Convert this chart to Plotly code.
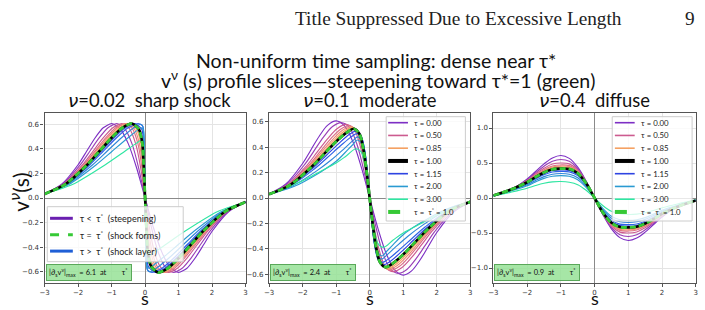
import plotly.graph_objects as go

W, H = 705, 310

# ---------------- data ----------------
TAUS = ["0.00", "0.25", "0.50", "0.65", "0.75", "0.85", "0.93", "1.00",
        "1.15", "1.30", "1.60", "2.00", "3.00"]

# nu = 0.02 : sharp shock  (s positions and values per slice)
V_STEEP = [0.033, 0.110, 0.271, 0.379, 0.487, 0.572, 0.607, 0.566, 0.441, 0.242, 0,
           -0.242, -0.441, -0.566, -0.607, -0.572, -0.487, -0.379, -0.271, -0.110, -0.033]
NU002_S = {
    "0.00": [-3, -2.5, -2, -1.75, -1.5, -1.25, -1, -0.75, -0.5, -0.25, 0, 0.25, 0.5, 0.75, 1, 1.25, 1.5, 1.75, 2, 2.5, 3],
    "0.25": [-3, -2.473, -1.932, -1.655, -1.378, -1.107, -0.848, -0.609, -0.39, -0.19, 0, 0.19, 0.39, 0.609, 0.848, 1.107, 1.378, 1.655, 1.932, 2.473, 3],
    "0.50": [-3, -2.445, -1.865, -1.561, -1.257, -0.964, -0.697, -0.467, -0.28, -0.129, 0, 0.129, 0.28, 0.467, 0.697, 0.964, 1.257, 1.561, 1.865, 2.445, 3],
    "0.65": [-3, -2.429, -1.824, -1.504, -1.183, -0.878, -0.605, -0.382, -0.213, -0.093, 0, 0.093, 0.213, 0.382, 0.605, 0.878, 1.183, 1.504, 1.824, 2.429, 3],
    "0.75": [-3, -2.418, -1.797, -1.466, -1.135, -0.821, -0.545, -0.326, -0.169, -0.069, 0, 0.069, 0.169, 0.326, 0.545, 0.821, 1.135, 1.466, 1.797, 2.418, 3],
    "0.85": [-3, -2.407, -1.77, -1.428, -1.086, -0.764, -0.484, -0.269, -0.125, -0.044, 0, 0.044, 0.125, 0.269, 0.484, 0.764, 1.086, 1.428, 1.77, 2.407, 3],
    "0.93": [-3, -2.398, -1.748, -1.398, -1.047, -0.718, -0.435, -0.224, -0.09, -0.025, 0, 0.025, 0.09, 0.224, 0.435, 0.718, 1.047, 1.398, 1.748, 2.398, 3],
    "1.00": [-3, -2.39, -1.729, -1.371, -1.013, -0.678, -0.393, -0.184, -0.08, -0.035, 0, 0.035, 0.08, 0.184, 0.393, 0.678, 1.013, 1.371, 1.729, 2.39, 3],
    "1.15": [-3, -2.373, -1.688, -1.314, -0.94, -0.592, -0.302, -0.099, -0.045, -0.018, 0, 0.018, 0.045, 0.099, 0.302, 0.592, 0.94, 1.314, 1.688, 2.373, 3],
    "1.30": [-3, -2.357, -1.648, -1.257, -0.867, -0.506, -0.211, -0.08, -0.04, -0.016, 0, 0.016, 0.04, 0.08, 0.211, 0.506, 0.867, 1.257, 1.648, 2.357, 3],
    "1.60": [-3, -2.324, -1.566, -1.144, -0.721, -0.335, -0.139, -0.06, -0.025, 0, 0.025, 0.06, 0.139, 0.335, 0.721, 1.144, 1.566, 2.324, 3],
    "2.00": [-3, -2.28, -1.458, -0.992, -0.526, -0.106, -0.05, -0.02, 0, 0.02, 0.05, 0.106, 0.526, 0.992, 1.458, 2.28, 3],
    "3.00": [-3, -2.17, -1.187, -0.613, -0.265, -0.12, -0.05, -0.02, 0, 0.02, 0.05, 0.12, 0.265, 0.613, 1.187, 2.17, 3],
}
NU002_V = {
    "0.00": V_STEEP, "0.25": V_STEEP, "0.50": V_STEEP, "0.65": V_STEEP,
    "0.75": V_STEEP, "0.85": V_STEEP, "0.93": V_STEEP,
    "1.00": [0.033, 0.110, 0.271, 0.379, 0.487, 0.572, 0.607, 0.560, 0.440, 0.220, 0, -0.220, -0.440, -0.560, -0.607, -0.572, -0.487, -0.379, -0.271, -0.110, -0.033],
    "1.15": [0.033, 0.110, 0.271, 0.379, 0.487, 0.572, 0.607, 0.560, 0.460, 0.250, 0, -0.250, -0.460, -0.560, -0.607, -0.572, -0.487, -0.379, -0.271, -0.110, -0.033],
    "1.30": [0.033, 0.110, 0.271, 0.379, 0.487, 0.572, 0.607, 0.590, 0.500, 0.270, 0, -0.270, -0.500, -0.590, -0.607, -0.572, -0.487, -0.379, -0.271, -0.110, -0.033],
    "1.60": [0.033, 0.110, 0.271, 0.379, 0.487, 0.572, 0.601, 0.580, 0.350, 0, -0.350, -0.580, -0.601, -0.572, -0.487, -0.379, -0.271, -0.110, -0.033],
    "2.00": [0.033, 0.110, 0.271, 0.379, 0.487, 0.572, 0.550, 0.330, 0, -0.330, -0.550, -0.572, -0.487, -0.379, -0.271, -0.110, -0.033],
    "3.00": [0.033, 0.110, 0.271, 0.379, 0.445, 0.470, 0.440, 0.270, 0, -0.270, -0.440, -0.470, -0.445, -0.379, -0.271, -0.110, -0.033],
}

# nu = 0.1 : moderate
NU01_S = {
    "0.00": [-3, -2.5, -2, -1.75, -1.5, -1.25, -1, -0.75, -0.5, -0.25, 0, 0.25, 0.5, 0.75, 1, 1.25, 1.5, 1.75, 2, 2.5, 3],
    "0.25": [-3, -2.47, -1.93, -1.655, -1.378, -1.107, -0.85, -0.61, -0.39, -0.19, 0, 0.19, 0.39, 0.61, 0.85, 1.107, 1.378, 1.655, 1.93, 2.47, 3],
    "0.50": [-3, -2.445, -1.865, -1.561, -1.257, -0.964, -0.7, -0.47, -0.29, -0.14, 0, 0.14, 0.29, 0.47, 0.7, 0.964, 1.257, 1.561, 1.865, 2.445, 3],
    "0.65": [-3, -2.43, -1.824, -1.504, -1.183, -0.878, -0.61, -0.4, -0.24, -0.11, 0, 0.11, 0.24, 0.4, 0.61, 0.878, 1.183, 1.504, 1.824, 2.43, 3],
    "0.75": [-3, -2.418, -1.797, -1.466, -1.135, -0.821, -0.56, -0.36, -0.21, -0.1, 0, 0.1, 0.21, 0.36, 0.56, 0.821, 1.135, 1.466, 1.797, 2.418, 3],
    "0.85": [-3, -2.407, -1.77, -1.428, -1.086, -0.764, -0.52, -0.33, -0.2, -0.1, 0, 0.1, 0.2, 0.33, 0.52, 0.764, 1.086, 1.428, 1.77, 2.407, 3],
    "0.93": [-3, -2.398, -1.748, -1.398, -1.047, -0.718, -0.49, -0.32, -0.19, -0.1, 0, 0.1, 0.19, 0.32, 0.49, 0.718, 1.047, 1.398, 1.748, 2.398, 3],
    "1.00": [-3, -2.39, -1.729, -1.371, -1.013, -0.678, -0.47, -0.31, -0.19, -0.1, 0, 0.1, 0.19, 0.31, 0.47, 0.678, 1.013, 1.371, 1.729, 2.39, 3],
    "1.15": [-3, -2.37, -1.69, -1.31, -0.94, -0.6, -0.4, -0.26, -0.15, -0.07, 0, 0.07, 0.15, 0.26, 0.4, 0.6, 0.94, 1.31, 1.69, 2.37, 3],
    "1.30": [-3, -2.36, -1.65, -1.26, -0.87, -0.55, -0.37, -0.24, -0.14, -0.07, 0, 0.07, 0.14, 0.24, 0.37, 0.55, 0.87, 1.26, 1.65, 2.36, 3],
    "1.60": [-3, -2.32, -1.57, -1.14, -0.75, -0.5, -0.36, -0.23, -0.13, -0.06, 0, 0.06, 0.13, 0.23, 0.36, 0.5, 0.75, 1.14, 1.57, 2.32, 3],
    "2.00": [-3, -2.28, -1.46, -0.99, -0.65, -0.5, -0.37, -0.25, -0.14, -0.07, 0, 0.07, 0.14, 0.25, 0.37, 0.5, 0.65, 0.99, 1.46, 2.28, 3],
    "3.00": [-3, -2.5, -2, -1.5, -1, -0.7, -0.41, -0.25, -0.13, -0.06, 0, 0.06, 0.13, 0.25, 0.41, 0.7, 1, 1.5, 2, 2.5, 3],
}
NU01_V = {
    "0.00": [0.033, 0.11, 0.271, 0.379, 0.487, 0.572, 0.605, 0.566, 0.441, 0.242, 0, -0.242, -0.441, -0.566, -0.605, -0.572, -0.487, -0.379, -0.271, -0.11, -0.033],
    "0.25": [0.032, 0.108, 0.266, 0.372, 0.478, 0.561, 0.592, 0.555, 0.43, 0.232, 0, -0.232, -0.43, -0.555, -0.592, -0.561, -0.478, -0.372, -0.266, -0.108, -0.032],
    "0.50": [0.032, 0.105, 0.259, 0.362, 0.465, 0.546, 0.578, 0.54, 0.415, 0.235, 0, -0.235, -0.415, -0.54, -0.578, -0.546, -0.465, -0.362, -0.259, -0.105, -0.032],
    "0.65": [0.031, 0.103, 0.255, 0.356, 0.458, 0.538, 0.568, 0.525, 0.4, 0.225, 0, -0.225, -0.4, -0.525, -0.568, -0.538, -0.458, -0.356, -0.255, -0.103, -0.031],
    "0.75": [0.031, 0.102, 0.251, 0.351, 0.451, 0.53, 0.561, 0.515, 0.39, 0.215, 0, -0.215, -0.39, -0.515, -0.561, -0.53, -0.451, -0.351, -0.251, -0.102, -0.031],
    "0.85": [0.031, 0.101, 0.249, 0.347, 0.446, 0.524, 0.554, 0.51, 0.385, 0.215, 0, -0.215, -0.385, -0.51, -0.554, -0.524, -0.446, -0.347, -0.249, -0.101, -0.031],
    "0.93": [0.03, 0.1, 0.247, 0.344, 0.443, 0.52, 0.548, 0.51, 0.385, 0.22, 0, -0.22, -0.385, -0.51, -0.548, -0.52, -0.443, -0.344, -0.247, -0.1, -0.03],
    "1.00": [0.03, 0.1, 0.245, 0.342, 0.44, 0.515, 0.543, 0.505, 0.385, 0.225, 0, -0.225, -0.385, -0.505, -0.543, -0.515, -0.44, -0.342, -0.245, -0.1, -0.03],
    "1.15": [0.03, 0.098, 0.236, 0.33, 0.423, 0.5, 0.525, 0.49, 0.37, 0.2, 0, -0.2, -0.37, -0.49, -0.525, -0.5, -0.423, -0.33, -0.236, -0.098, -0.03],
    "1.30": [0.03, 0.096, 0.228, 0.318, 0.41, 0.48, 0.505, 0.47, 0.36, 0.2, 0, -0.2, -0.36, -0.47, -0.505, -0.48, -0.41, -0.318, -0.228, -0.096, -0.03],
    "1.60": [0.03, 0.092, 0.215, 0.3, 0.39, 0.45, 0.48, 0.45, 0.34, 0.18, 0, -0.18, -0.34, -0.45, -0.48, -0.45, -0.39, -0.3, -0.215, -0.092, -0.03],
    "2.00": [0.03, 0.088, 0.205, 0.29, 0.38, 0.42, 0.455, 0.43, 0.33, 0.18, 0, -0.18, -0.33, -0.43, -0.455, -0.42, -0.38, -0.29, -0.205, -0.088, -0.03],
    "3.00": [0.03, 0.08, 0.135, 0.205, 0.275, 0.33, 0.387, 0.36, 0.24, 0.12, 0, -0.12, -0.24, -0.36, -0.387, -0.33, -0.275, -0.205, -0.135, -0.08, -0.03],
}

# nu = 0.4 : diffuse (common s grid)
NU04_S = [-3, -2.5, -2, -1.75, -1.5, -1.25, -1, -0.75, -0.5, -0.25, 0, 0.25, 0.5, 0.75, 1, 1.25, 1.5, 1.75, 2, 2.5, 3]
NU04_V = {
    "0.00": [0.033, 0.11, 0.271, 0.379, 0.487, 0.572, 0.607, 0.566, 0.441, 0.242, 0, -0.242, -0.441, -0.566, -0.607, -0.572, -0.487, -0.379, -0.271, -0.11, -0.033],
    "0.25": [0.035, 0.115, 0.26, 0.36, 0.455, 0.525, 0.55, 0.525, 0.42, 0.235, 0, -0.235, -0.42, -0.525, -0.55, -0.525, -0.455, -0.36, -0.26, -0.115, -0.035],
    "0.50": [0.036, 0.118, 0.25, 0.342, 0.425, 0.485, 0.5, 0.488, 0.4, 0.228, 0, -0.228, -0.4, -0.488, -0.5, -0.485, -0.425, -0.342, -0.25, -0.118, -0.036],
    "0.65": [0.037, 0.119, 0.242, 0.328, 0.405, 0.458, 0.472, 0.462, 0.385, 0.222, 0, -0.222, -0.385, -0.462, -0.472, -0.458, -0.405, -0.328, -0.242, -0.119, -0.037],
    "0.75": [0.037, 0.119, 0.237, 0.32, 0.393, 0.443, 0.456, 0.448, 0.375, 0.218, 0, -0.218, -0.375, -0.448, -0.456, -0.443, -0.393, -0.32, -0.237, -0.119, -0.037],
    "0.85": [0.036, 0.118, 0.232, 0.312, 0.382, 0.43, 0.442, 0.436, 0.367, 0.215, 0, -0.215, -0.367, -0.436, -0.442, -0.43, -0.382, -0.312, -0.232, -0.118, -0.036],
    "0.93": [0.036, 0.118, 0.228, 0.305, 0.373, 0.42, 0.43, 0.425, 0.36, 0.212, 0, -0.212, -0.36, -0.425, -0.43, -0.42, -0.373, -0.305, -0.228, -0.118, -0.036],
    "1.00": [0.036, 0.118, 0.225, 0.3, 0.365, 0.41, 0.42, 0.415, 0.355, 0.21, 0, -0.21, -0.355, -0.415, -0.42, -0.41, -0.365, -0.3, -0.225, -0.118, -0.036],
    "1.15": [0.035, 0.114, 0.215, 0.287, 0.35, 0.392, 0.4, 0.395, 0.34, 0.2, 0, -0.2, -0.34, -0.395, -0.4, -0.392, -0.35, -0.287, -0.215, -0.114, -0.035],
    "1.30": [0.034, 0.11, 0.205, 0.272, 0.332, 0.372, 0.38, 0.373, 0.32, 0.19, 0, -0.19, -0.32, -0.373, -0.38, -0.372, -0.332, -0.272, -0.205, -0.11, -0.034],
    "1.60": [0.032, 0.104, 0.19, 0.25, 0.305, 0.34, 0.35, 0.34, 0.29, 0.17, 0, -0.17, -0.29, -0.34, -0.35, -0.34, -0.305, -0.25, -0.19, -0.104, -0.032],
    "2.00": [0.03, 0.097, 0.175, 0.23, 0.28, 0.31, 0.32, 0.31, 0.262, 0.152, 0, -0.152, -0.262, -0.31, -0.32, -0.31, -0.28, -0.23, -0.175, -0.097, -0.03],
    "3.00": [0.025, 0.08, 0.14, 0.178, 0.21, 0.23, 0.235, 0.225, 0.19, 0.11, 0, -0.11, -0.19, -0.225, -0.235, -0.23, -0.21, -0.178, -0.14, -0.08, -0.025],
}

MAX_GRAD = ["6.1", "2.4", "0.9"]
NU_VALUES = ["0.02", "0.1", "0.4"]
REGIMES = ["sharp shock", "moderate", "diffuse"]
LEGEND_TAUS = ["0.00", "0.50", "0.85", "1.00", "1.15", "2.00", "3.00"]
Y_RANGES = [(-0.69, 0.69), (-0.665, 0.665), (-1.21, 1.21)]
Y_DTICK = [0.2, 0.2, 0.5]

# ---------------- styles ----------------
COLORS = {
    "0.00": "#7d2fc4", "0.25": "#9a3fb6", "0.50": "#cc5b8f", "0.65": "#dd6f86",
    "0.75": "#ec8a78", "0.85": "#f5a162", "0.93": "#f7b574", "1.00": "#000000",
    "1.15": "#2e44e2", "1.30": "#2f62e6", "1.60": "#2f86d8", "2.00": "#2a9ad2",
    "3.00": "#2fe6a2",
}
GREEN = "#36c936"
FONT = "Lato, 'Noto Sans', sans-serif"
NU = "<span style=\"font-family:'DejaVu Sans';font-style:italic\">ν</span>"

X_DOM = [(40, 243), (266.7, 470), (493.3, 697.7)]
Y_TOP, Y_BOT = 113.3, 282.7


def px(x):
    return x / W


def py(y):
    return 1 - y / H


fig = go.Figure()

panel_data = [
    [(NU002_S[t], NU002_V[t]) for t in TAUS],
    [(NU01_S[t], NU01_V[t]) for t in TAUS],
    [(NU04_S, NU04_V[t]) for t in TAUS],
]

for p in range(3):
    xa = "x" if p == 0 else f"x{p + 1}"
    ya = "y" if p == 0 else f"y{p + 1}"
    smooth = 0.6 if p == 0 else 1.0
    for k, tau in enumerate(TAUS):
        if tau == "1.00":
            continue
        s, v = panel_data[p][k]
        fig.add_trace(go.Scatter(x=s, y=v, mode="lines", xaxis=xa, yaxis=ya,
                                 line=dict(color=COLORS[tau], width=1.15, shape="spline", smoothing=smooth),
                                 showlegend=False, hoverinfo="skip"))
    k1 = TAUS.index("1.00")
    s, v = panel_data[p][k1]
    fig.add_trace(go.Scatter(x=s, y=v, mode="lines", xaxis=xa, yaxis=ya,
                             line=dict(color="#000000", width=2.6, shape="spline", smoothing=smooth),
                             showlegend=False, hoverinfo="skip"))
    fig.add_trace(go.Scatter(x=s, y=v, mode="lines", xaxis=xa, yaxis=ya,
                             line=dict(color=GREEN, width=2.8, dash="6px,3px", shape="spline", smoothing=smooth),
                             showlegend=False, hoverinfo="skip"))

layout = dict(width=W, height=H, margin=dict(l=0, r=0, t=0, b=0),
              paper_bgcolor="white", plot_bgcolor="white", showlegend=False)

for p in range(3):
    xk = "xaxis" if p == 0 else f"xaxis{p + 1}"
    yk = "yaxis" if p == 0 else f"yaxis{p + 1}"
    ya = "y" if p == 0 else f"y{p + 1}"
    xa = "x" if p == 0 else f"x{p + 1}"
    common = dict(showgrid=True, gridcolor="#e4e4e4", gridwidth=1,
                  zeroline=True, zerolinecolor="#8a8a8a", zerolinewidth=1,
                  showline=True, linecolor="#555555", linewidth=1.3, mirror=True,
                  ticks="outside", ticklen=3, tickwidth=1, tickcolor="#555555",
                  tickfont=dict(family="DejaVu Sans", size=7, color="#333333"))
    layout[xk] = dict(common, domain=[px(X_DOM[p][0]), px(X_DOM[p][1])], anchor=ya,
                      range=[-3, 3], dtick=1, tick0=0)
    layout[yk] = dict(common, domain=[py(Y_BOT), py(Y_TOP)], anchor=xa,
                      range=list(Y_RANGES[p]), dtick=Y_DTICK[p], tick0=0, tickformat=".1f")

fig.update_layout(**layout)

ann = []
shapes = []

# page header and titles
ann.append(dict(x=px(625), y=py(19), xref="paper", yref="paper", xanchor="right", yanchor="middle",
                text="Title Suppressed Due to Excessive Length", showarrow=False,
                font=dict(family="'Liberation Serif', serif", size=19.3, color="#222")))
ann.append(dict(x=px(699), y=py(19), xref="paper", yref="paper", xanchor="right", yanchor="middle",
                text="9", showarrow=False, font=dict(family="'Liberation Serif', serif", size=19.3, color="#222")))
ann.append(dict(x=px(375), y=py(60), xref="paper", yref="paper", xanchor="center", yanchor="middle",
                text="Non-uniform time sampling: dense near τ*", showarrow=False,
                font=dict(family=FONT, size=19.5, color="#111")))
ann.append(dict(x=px(377), y=py(79), xref="paper", yref="paper", xanchor="center", yanchor="middle",
                text="v<sup>ν</sup> (s) profile slices\u2014steepening toward τ*=1 (green)", showarrow=False,
                font=dict(family=FONT, size=19.5, color="#111")))

for p in range(3):
    cx = (X_DOM[p][0] + X_DOM[p][1]) / 2
    ann.append(dict(x=px(cx + (4 if p == 0 else 0)), y=py(100), xref="paper", yref="paper",
                    xanchor="center", yanchor="middle",
                    text=NU + "=" + NU_VALUES[p] + "\u00a0\u00a0" + REGIMES[p], showarrow=False,
                    font=dict(family=FONT, size=18.4, color="#111")))
    ann.append(dict(x=px(cx), y=0, xref="paper", yref="paper", xanchor="center", yanchor="bottom",
                    text="s", showarrow=False, height=15, valign="bottom", borderpad=0,
                    font=dict(family=FONT, size=18, color="#111")))
    dom = "x domain" if p == 0 else f"x{p + 1} domain"
    ydom = "y domain" if p == 0 else f"y{p + 1} domain"
    ann.append(dict(x=0.005, y=0.012, xref=dom, yref=ydom, xanchor="left", yanchor="bottom",
                    text="|∂<sub>s</sub>v<sup>ν</sup>|<sub>max</sub>\u00a0 = " + MAX_GRAD[p]
                         + "\u00a0 at\u00a0\u00a0\u00a0\u00a0\u00a0\u00a0\u00a0\u00a0τ<sup>*</sup>\u00a0",
                    showarrow=False, bgcolor="rgba(150,226,150,0.85)", bordercolor="#5aa85a",
                    borderwidth=1, borderpad=2, font=dict(family=FONT, size=7.5, color="#111")))

ann.append(dict(x=px(14), y=py(192), xref="paper", yref="paper", xanchor="center", yanchor="middle",
                text="v<sup>" + NU + "</sup>(s)", textangle=-90, showarrow=False,
                font=dict(family=FONT, size=21, color="#111")))

# legend of panel 1
shapes.append(dict(type="rect", xref="paper", yref="paper", x0=px(42.7), x1=px(180), y0=py(261.7), y1=py(206.7),
                   fillcolor="rgba(255,255,255,0.8)", line=dict(color="#cccccc", width=1), layer="above"))
leg1 = [("#6a1fb0", "solid", "τ <\u00a0\u00a0τ<sup>*</sup>\u00a0 (steepening)"),
        (GREEN, "dash", "τ =\u00a0\u00a0τ<sup>*</sup>\u00a0 (shock forms)"),
        ("#1f5fd6", "solid", "τ >\u00a0\u00a0τ<sup>*</sup>\u00a0 (shock layer)")]
for i, (c, d, t) in enumerate(leg1):
    yy = 218.3 + i * 16.4
    shapes.append(dict(type="line", xref="paper", yref="paper", x0=px(45.5), x1=px(68.5), y0=py(yy), y1=py(yy),
                       line=dict(color=c, width=3, dash=d), layer="above"))
    ann.append(dict(x=px(74), y=py(yy), xref="paper", yref="paper", xanchor="left", yanchor="middle",
                    text=t, showarrow=False, font=dict(family=FONT, size=9, color="#222")))

# legends of panels 2 and 3
for (bx0, bx1, lx0, lx1, tx) in [(385, 465, 387, 407, 411), (613.3, 694, 616, 636, 640)]:
    shapes.append(dict(type="rect", xref="paper", yref="paper", x0=px(bx0), x1=px(bx1), y0=py(221), y1=py(116.7),
                       fillcolor="rgba(255,255,255,0.8)", line=dict(color="#cccccc", width=1), layer="above"))
    entries = [(COLORS[t], 1.6 if t != "1.00" else 4, "solid", "τ = " + t) for t in LEGEND_TAUS]
    entries.append((GREEN, 4, "dash", "τ =\u00a0\u00a0τ<sup>*</sup> = 1.0"))
    for i, (c, wdt, d, t) in enumerate(entries):
        yy = 122.7 + i * 12.75
        shapes.append(dict(type="line", xref="paper", yref="paper", x0=px(lx0), x1=px(lx1), y0=py(yy), y1=py(yy),
                           line=dict(color=c, width=wdt, dash=d), layer="above"))
        ann.append(dict(x=px(tx), y=py(yy), xref="paper", yref="paper", xanchor="left", yanchor="middle",
                        text=t, showarrow=False, font=dict(family=FONT, size=7.8, color="#222")))

fig.update_layout(annotations=ann, shapes=shapes)
fig.write_html("out.html")
